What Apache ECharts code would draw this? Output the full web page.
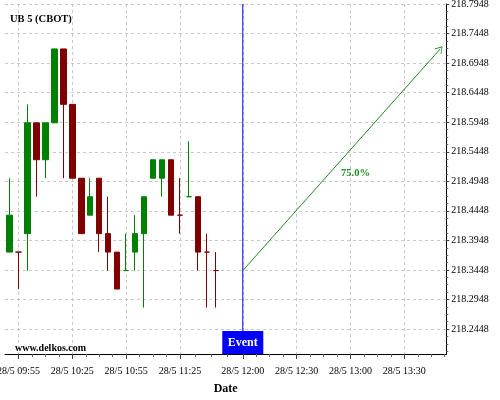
<!DOCTYPE html>
<html>
<head>
<meta charset="utf-8">
<script src="https://cdn.jsdelivr.net/npm/echarts@6/dist/echarts.min.js"></script>
<style>
  html, body { margin: 0; padding: 0; background: #fff; }
  #chart { width: 500px; height: 400px; }
</style>
</head>
<body>
<div id="chart"></div>
<script>
  // candle data, 5 minute bars, 28/5
  var candleTimes = ['09:50','09:55','10:00','10:05','10:10','10:15','10:20','10:25','10:30','10:35','10:40','10:45',
                     '10:50','10:55','11:00','11:05','11:10','11:15','11:20','11:25','11:30','11:35','11:40','11:45'];
  var opens  = [218.375,218.375,218.40625,218.59375,218.53125,218.59375,218.71875,218.625,218.5,218.4375,218.5,218.40625,
                218.375,218.34375,218.375,218.40625,218.5,218.5,218.53125,218.4375,218.46875,218.46875,218.375,218.34375];
  var highs  = [218.5,218.375,218.625,218.59375,218.59375,218.71875,218.71875,218.625,218.5,218.5,218.5,218.46875,
                218.375,218.40625,218.4375,218.46875,218.53125,218.53125,218.53125,218.5,218.5625,218.46875,218.40625,218.375];
  var lows   = [218.375,218.3125,218.34375,218.46875,218.5,218.59375,218.5,218.5,218.40625,218.4375,218.375,218.34375,
                218.3125,218.34375,218.34375,218.28125,218.5,218.46875,218.4375,218.40625,218.46875,218.34375,218.28125,218.28125];
  var closes = [218.4375,218.375,218.59375,218.53125,218.59375,218.71875,218.625,218.5,218.40625,218.46875,218.40625,218.375,
                218.3125,218.34375,218.40625,218.46875,218.53125,218.53125,218.4375,218.4375,218.46875,218.375,218.375,218.34375];

  var yTicks = [218.2448,218.2948,218.3448,218.3948,218.4448,218.4948,218.5448,218.5948,218.6448,218.6948,218.7448,218.7948];
  var xTickTimes = ['09:55','10:25','10:55','11:25','12:00','12:30','13:00','13:30'];

  var eventTime = '12:00';
  var arrowFrom = ['12:00', 218.34375];
  var arrowTo = ['13:50', 218.71875];
  var arrowText = '75.0%';

  var yMin = 218.2026, yMax = 218.7948;
  var xMin = 587.5, xMax = 833.4;   // minutes of the day

  var UP = '#008000', DOWN = '#800000', ARROW = '#228b22', EVENT = '#0000ff';
  var FONT = 'Liberation Serif';

  function toMin(s) { var p = s.split(':'); return +p[0] * 60 + +p[1]; }
  function pad(n) { return (n < 10 ? '0' : '') + n; }
  function fmtTime(v) { var h = Math.floor(v / 60), m = Math.round(v - h * 60); return '28/5 ' + pad(h) + ':' + pad(m); }

  var xTicks = xTickTimes.map(toMin);

  // 4 subdivisions between major ticks
  var xMinor = [];
  for (var i = 0; i < xTicks.length; i++) {
    var step = i < xTicks.length - 1 ? (xTicks[i + 1] - xTicks[i]) / 4 : (xTicks[i] - xTicks[i - 1]) / 4;
    for (var j = 1; j < 4; j++) {
      var v = xTicks[i] + j * step;
      if (v < xMax) xMinor.push(v);
    }
  }
  var firstStep = (xTicks[1] - xTicks[0]) / 4;
  for (var j = 1; j < 4; j++) { if (xTicks[0] - j * firstStep > xMin) xMinor.push(xTicks[0] - j * firstStep); }

  var yMinor = [];
  var ys = (yTicks[1] - yTicks[0]) / 4;
  for (var v = yTicks[0] - ys; v > yMin; v -= ys) yMinor.push(v);
  for (var i = 0; i < yTicks.length; i++) {
    for (var j = 1; j < 4; j++) { var w = yTicks[i] + j * ys; if (w < yMax) yMinor.push(w); }
  }

  var candles = candleTimes.map(function (t, i) {
    var c;
    if (closes[i] > opens[i]) c = UP;
    else if (closes[i] < opens[i]) c = DOWN;
    else c = (i > 0 && closes[i - 1] < closes[i]) ? UP : DOWN;
    return {
      value: [toMin(t), opens[i], closes[i], lows[i], highs[i]],
      itemStyle: { color: c, color0: c, borderColor: c, borderColor0: c, borderColorDoji: c }
    };
  });

  var gridBox = { left: 5, right: 53.7, top: 4, bottom: 46, outerBoundsMode: 'none', containLabel: false };
  var dashed = { show: true, lineStyle: { color: '#c8c8c8', type: [3, 3], width: 1 } };

  var option = {
    animation: false,
    backgroundColor: '#fff',
    title: [
      { text: 'UB 5 (CBOT)', left: 10, top: 14, padding: 0,
        textStyle: { fontFamily: FONT, fontSize: 10.5, fontWeight: 'bold', color: '#000' } },
      { text: 'www.delkos.com', left: 15, top: 343, padding: 0,
        textStyle: { fontFamily: FONT, fontSize: 10, fontWeight: 'bold', color: '#000' } },
      { text: arrowText, left: 341, top: 168, padding: 0,
        textStyle: { fontFamily: FONT, fontSize: 10.5, fontWeight: 'bold', color: ARROW } }
    ],
    grid: [gridBox, gridBox],
    xAxis: [
      {
        type: 'value', gridIndex: 0, min: xMin, max: xMax,
        name: 'Date', nameLocation: 'middle', nameGap: 29,
        nameTextStyle: { fontFamily: FONT, fontSize: 12, fontWeight: 'bold', color: '#000' },
        axisLine: { show: true, lineStyle: { color: '#000', width: 1 } },
        axisTick: { show: true, customValues: xTicks, length: 5, lineStyle: { color: '#444' } },
        axisLabel: { customValues: xTicks, formatter: fmtTime, margin: 12,
                     fontFamily: FONT, fontSize: 10, color: '#000' },
        splitLine: dashed
      },
      {
        type: 'value', gridIndex: 1, min: xMin, max: xMax,
        axisLine: { show: false },
        axisTick: { show: true, customValues: xMinor, length: 3, lineStyle: { color: '#666' } },
        axisLabel: { show: false },
        splitLine: { show: false }
      }
    ],
    yAxis: [
      {
        type: 'value', gridIndex: 0, position: 'right', min: yMin, max: yMax, scale: true,
        axisLine: { show: true, lineStyle: { color: '#000', width: 1 } },
        axisTick: { show: true, customValues: yTicks, length: 3, lineStyle: { color: '#444' } },
        axisLabel: { customValues: yTicks, formatter: function (v) { return v.toFixed(4); },
                     margin: 5, padding: [5, 0, 0, 0], fontFamily: FONT, fontSize: 10, color: '#000' },
        splitLine: dashed
      },
      {
        type: 'value', gridIndex: 1, position: 'right', min: yMin, max: yMax, scale: true,
        axisLine: { show: false },
        axisTick: { show: true, customValues: yMinor, length: 2, lineStyle: { color: '#666' } },
        axisLabel: { show: false },
        splitLine: { show: false }
      }
    ],
    series: [
      {
        type: 'candlestick',
        xAxisIndex: 0, yAxisIndex: 0,
        barWidth: 6,
        encode: { x: 0, y: [1, 2, 3, 4] },
        itemStyle: { color: UP, color0: DOWN, borderColor: UP, borderColor0: DOWN, borderWidth: 1 },
        data: candles,
        markLine: {
          silent: true,
          symbol: ['none', 'none'],
          label: { show: false },
          emphasis: { disabled: true },
          data: [
            [
              { coord: [toMin(arrowFrom[0]), arrowFrom[1]], symbol: 'none',
                lineStyle: { color: ARROW, width: 1, type: 'solid' } },
              { coord: [toMin(arrowTo[0]), arrowTo[1]],
                symbol: 'path://M0,10 L5,0 L10,10 L9,10 L5,2 L1,10 Z', symbolSize: [9, 7],
                lineStyle: { color: ARROW, width: 1, type: 'solid' } }
            ]
          ]
        }
      },
      {
        // event marker: vertical line plus the label box at its foot
        type: 'line',
        xAxisIndex: 0, yAxisIndex: 0,
        data: [[toMin(eventTime), yMin], [toMin(eventTime), yMax]],
        symbol: 'none',
        silent: true,
        lineStyle: { color: EVENT, width: 1, type: 'solid' },
        itemStyle: { color: EVENT },
        z: 3,
        markPoint: {
          silent: true,
          data: [{
            coord: [toMin(eventTime), yMin],
            symbol: 'rect', symbolSize: [41, 23], symbolOffset: [0, -11.5],
            itemStyle: { color: EVENT },
            label: { show: true, position: 'inside', formatter: 'Event', color: '#fff',
                     fontFamily: FONT, fontSize: 12, fontWeight: 'bold' }
          }]
        }
      }
    ]
  };

  var chart = echarts.init(document.getElementById('chart'));
  chart.setOption(option);
</script>
</body>
</html>
